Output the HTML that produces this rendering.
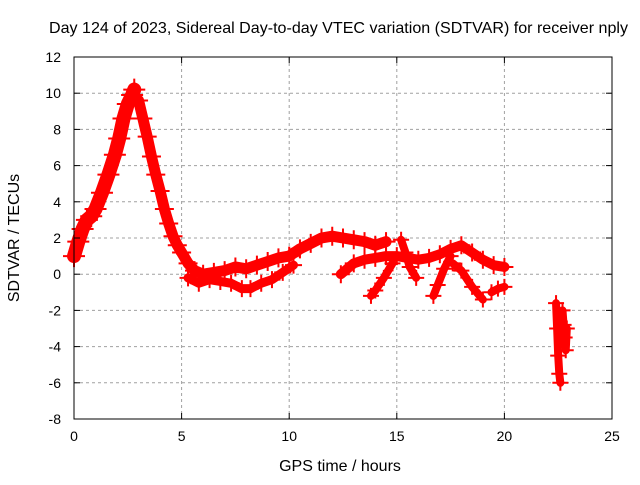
<!DOCTYPE html>
<html><head><meta charset="utf-8"><style>
body{margin:0;background:#fff;}
svg text{font-family:"Liberation Sans",sans-serif;font-size:14px;fill:#000;}
svg text.big{font-size:16px;}
</style></head><body>
<svg id="chart" width="640" height="480" xmlns="http://www.w3.org/2000/svg">
<text class="big" x="49" y="33" textLength="579" lengthAdjust="spacingAndGlyphs">Day 124 of 2023, Sidereal Day-to-day VTEC variation (SDTVAR) for receiver nply</text>
<g id="grid"></g><g id="marks"></g><g id="axes"></g>
<text class="big" x="340" y="471" text-anchor="middle">GPS time / hours</text>
<text class="big" x="19" y="238" text-anchor="middle" transform="rotate(-90 19 238)">SDTVAR / TECUs</text>
</svg>
<script>
const xTicks=[0,5,10,15,20,25];
const yTicks=[-8,-6,-4,-2,0,2,4,6,8,10,12];
const trackRiseT=[0,0.2,0.4,0.6,0.8,1.0,1.3,1.6,1.9,2.1,2.3,2.5,2.7,2.8];
const trackRiseV=[1.0,1.8,2.5,3.0,3.2,3.6,4.5,5.5,6.6,7.5,8.6,9.4,9.9,10.2];
const trackFallT=[3.0,3.2,3.4,3.6,3.8,4.0,4.2,4.4,4.6,4.8,5.0,5.3,5.6,6.0,6.5,7.0,7.5,8.0,8.5,9.0,9.5,10.0,10.5,11.0,11.5,12.0,12.5,13.0,13.5,14.0,14.5];
const trackFallV=[9.6,8.6,7.6,6.5,5.5,4.6,3.6,2.8,2.1,1.6,1.2,0.6,0.2,0.0,0.1,0.2,0.4,0.3,0.5,0.7,0.9,1.0,1.4,1.7,2.0,2.1,2.0,1.9,1.8,1.6,1.8];
const trackLowT=[5.3,5.8,6.3,6.8,7.3,7.8,8.2,8.7,9.2,9.7,10.2];
const trackLowV=[-0.2,-0.5,-0.3,-0.4,-0.5,-0.8,-0.8,-0.5,-0.3,0.1,0.5];
const trackMidT=[12.4,13.0,13.5,14.0,14.5,15.0,15.5,16.0,16.5,17.0,17.5,18.0,18.5,19.0,19.5,20.0];
const trackMidV=[0.0,0.6,0.8,0.9,1.0,1.0,0.9,0.8,0.9,1.1,1.4,1.6,1.2,0.8,0.5,0.4];
const branchAT=[14.8,14.4,14.0,13.8];const branchAV=[0.6,-0.2,-0.9,-1.2];
const branchBT=[15.2,15.4,15.6,15.9];const branchBV=[1.9,1.2,0.4,-0.2];
const branchCT=[17.5,17.2,16.9,16.7];const branchCV=[1.0,0.3,-0.6,-1.2];
const branchDT=[17.6,18.0,18.5,19.0];const branchDV=[0.6,0.2,-0.7,-1.4];
const branchET=[19.4,19.7,20.0];const branchEV=[-1.0,-0.8,-0.7];
const spikeAT=[22.4,22.45,22.5,22.55,22.6];const spikeAV=[-1.6,-3.0,-4.5,-5.5,-6.0];
const spikeBT=[22.7,22.75,22.8,22.85,22.9];const spikeBV=[-2.0,-2.8,-3.5,-4.2,-3.0];
const tracks=[[trackRiseT,trackRiseV,14],[trackFallT,trackFallV,11],[trackLowT,trackLowV,9],[trackMidT,trackMidV,10],[branchAT,branchAV,8],[branchBT,branchBV,8],[branchCT,branchCV,8],[branchDT,branchDV,8],[branchET,branchEV,8],[spikeAT,spikeAV,8],[spikeBT,spikeBV,8]];
const L=74,R=612,T=57,B=419;
const xs=t=>L+(t-0)/25*(R-L);
const ys=v=>B-(v+8)/20*(B-T);
const NS="http://www.w3.org/2000/svg";
function mk(tag,attrs,parent){const e=document.createElementNS(NS,tag);for(const k in attrs)e.setAttribute(k,attrs[k]);parent.appendChild(e);return e;}
const grid=document.getElementById('grid'),axes=document.getElementById('axes'),marks=document.getElementById('marks');
xTicks.forEach(t=>{const x=xs(t);
 if(t>0&&t<25){const g=mk('line',{x1:x,x2:x,y1:T,y2:B,stroke:'#a0a0a0','stroke-dasharray':'3,3'},grid);}
 mk('line',{x1:x,x2:x,y1:B,y2:B-6,stroke:'#000'},axes);mk('line',{x1:x,x2:x,y1:T,y2:T+6,stroke:'#000'},axes);
 const l=mk('text',{x:x,y:B+22,'text-anchor':'middle'},axes);l.textContent=t;
 });
yTicks.forEach(v=>{const y=ys(v);
 if(v>-8&&v<12){const g=mk('line',{x1:L,x2:R,y1:y,y2:y,stroke:'#a0a0a0','stroke-dasharray':'3,3'},grid);}
 mk('line',{x1:L,x2:L+6,y1:y,y2:y,stroke:'#000'},axes);mk('line',{x1:R,x2:R-6,y1:y,y2:y,stroke:'#000'},axes);
 const l=mk('text',{x:L-13,y:y+5,'text-anchor':'end'},axes);l.textContent=v;
 });
const frame=mk('rect',{x:L,y:T,width:R-L,height:B-T,fill:'none',stroke:'#000'},axes);

tracks.forEach(([tt,vv,w])=>{
 const pts=tt.map((t,i)=>xs(t)+','+ys(vv[i])).join(' ');
 const pl=mk('polyline',{points:pts,fill:'none',stroke:'#ff0000','stroke-width':w,'stroke-linejoin':'round','stroke-linecap':'round'},marks);
 
 tt.forEach((t,i)=>{const x=xs(t),y=ys(vv[i]);
  const p=mk('path',{d:`M${x-w/2-4},${y}h${w+8}M${x},${y-w/2-4}v${w+8}`,stroke:'#ff0000','stroke-width':2},marks);
  });
});
</script>
</body></html>
